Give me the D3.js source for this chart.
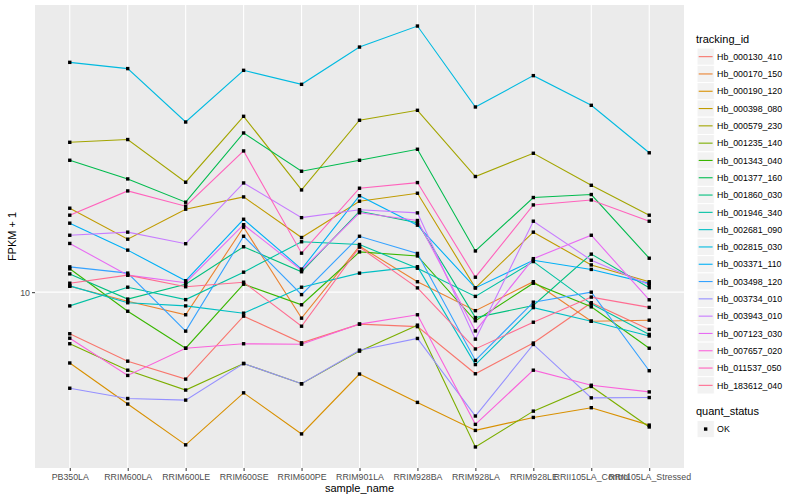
<!DOCTYPE html>
<html>
<head>
<meta charset="utf-8">
<script src="https://cdn.jsdelivr.net/npm/d3@7"></script>
<style>
  body { margin: 0; background: #fff; }
  text { font-family: "Liberation Sans", Arial, Helvetica, sans-serif; }
</style>
</head>
<body>
<svg id="chart" width="800" height="500"></svg>
<script>
const samples = ["PB350LA", "RRIM600LA", "RRIM600LE", "RRIM600SE", "RRIM600PE", "RRIM901LA",
  "RRIM928BA", "RRIM928LA", "RRIM928LE", "RRII105LA_Control", "RRII105LA_Stressed"];

const trackingIds = ["Hb_000130_410", "Hb_000170_150", "Hb_000190_120", "Hb_000398_080", "Hb_000579_230",
  "Hb_001235_140", "Hb_001343_040", "Hb_001377_160", "Hb_001860_030", "Hb_001946_340",
  "Hb_002681_090", "Hb_002815_030", "Hb_003371_110", "Hb_003498_120", "Hb_003734_010",
  "Hb_003943_010", "Hb_007123_030", "Hb_007657_020", "Hb_011537_050", "Hb_183612_040"];

const colours = ["#F8766D", "#EA8331", "#D89000", "#C09B00", "#A3A500", "#7CAE00", "#39B600", "#00BB4E",
  "#00BF7D", "#00C1A3", "#00BFC4", "#00BAE0", "#00B0F6", "#35A2FF", "#9590FF", "#C77CFF",
  "#E76BF3", "#FA62DB", "#FF62BC", "#FF6C91"];

// FPKM + 1, one value per sample
const hb000130_410 = [7.87, 6.72, 6.06, 8.71, 7.47, 8.32, 8.20, 6.25, 7.46, 9.41, 8.07];
const hb000170_150 = [10.35, 9.49, 8.78, 14.54, 8.61, 13.03, 10.62, 8.99, 10.62, 8.46, 8.51];
const hb000190_120 = [6.65, 5.25, 4.15, 5.60, 4.42, 6.24, 5.30, 4.51, 4.86, 5.14, 4.65];
const hb000398_080 = [16.22, 13.57, 16.13, 17.31, 13.70, 16.89, 17.68, 10.25, 14.13, 11.70, 10.62];
const hb000579_230 = [23.71, 24.09, 18.84, 27.54, 18.02, 26.92, 28.51, 19.47, 22.26, 18.51, 15.58];
const hb001235_140 = [7.43, 6.38, 5.69, 6.63, 5.90, 7.12, 8.27, 4.10, 5.04, 5.81, 4.60];
const hb001343_040 = [11.44, 8.96, 7.24, 10.47, 9.30, 12.61, 12.32, 8.48, 10.53, 9.19, 7.24];
const hb001377_160 = [21.38, 19.20, 16.79, 25.02, 20.07, 21.38, 22.78, 12.68, 17.25, 17.55, 12.16];
const hb001860_030 = [11.11, 9.61, 10.47, 12.99, 11.25, 15.94, 14.92, 8.64, 9.26, 12.45, 10.26];
const hb001946_340 = [9.24, 10.29, 9.58, 11.22, 13.37, 13.16, 11.48, 9.76, 11.93, 9.35, 7.84];
const hb002681_090 = [10.37, 9.41, 9.24, 8.86, 10.29, 11.16, 11.58, 6.59, 9.15, 8.46, 7.77];
const hb002815_030 = [37.58, 36.25, 26.65, 35.89, 33.11, 41.04, 46.32, 29.06, 34.81, 29.34, 22.32];
const hb003371_110 = [14.88, 12.74, 10.68, 15.22, 11.42, 17.43, 14.71, 10.25, 12.02, 11.40, 10.52];
const hb003498_120 = [11.57, 11.16, 7.99, 13.80, 9.86, 13.80, 12.50, 6.75, 9.44, 10.00, 6.36];
const hb003734_010 = [5.75, 5.42, 5.37, 6.63, 5.90, 7.16, 7.66, 4.90, 7.40, 5.44, 5.45];
const hb003943_010 = [13.88, 14.13, 13.22, 18.76, 15.36, 16.08, 15.79, 7.63, 15.05, 12.02, 10.43];
const hb007123_030 = [13.24, 11.03, 10.56, 14.75, 11.35, 15.80, 15.11, 8.00, 12.13, 13.88, 9.57];
const hb007657_020 = [7.67, 6.19, 7.24, 7.43, 7.41, 8.32, 8.78, 4.67, 6.38, 5.85, 5.63];
const hb011537_050 = [15.58, 17.92, 16.41, 22.56, 12.52, 18.20, 18.80, 10.90, 16.53, 17.01, 15.05];
const hb183612_040 = [10.53, 11.03, 10.32, 10.59, 8.22, 12.96, 10.25, 7.21, 8.41, 9.72, 9.16];

const yTicks = [10];

const seriesValues = [hb000130_410, hb000170_150, hb000190_120, hb000398_080, hb000579_230,
  hb001235_140, hb001343_040, hb001377_160, hb001860_030, hb001946_340,
  hb002681_090, hb002815_030, hb003371_110, hb003498_120, hb003734_010,
  hb003943_010, hb007123_030, hb007657_020, hb011537_050, hb183612_040];

const series = trackingIds.map((id, i) => ({
  id: id,
  colour: colours[i],
  points: samples.map((s, j) => ({ sample: s, value: seriesValues[i][j] }))
}));

const panel = { left: 35, right: 684, top: 5, bottom: 468 };
const svg = d3.select("#chart");

const x = d3.scalePoint()
  .domain(samples)
  .range([panel.left, panel.right])
  .padding(0.6);

// log scale with ggplot-like 5% expansion
const all = seriesValues.flat();
const lo = Math.log10(d3.min(all)), hi = Math.log10(d3.max(all));
const pad = (hi - lo) * 0.05;
const y = d3.scaleLog()
  .domain([Math.pow(10, lo - pad), Math.pow(10, hi + pad)])
  .range([panel.bottom, panel.top]);

svg.append("rect")
  .attr("x", panel.left).attr("y", panel.top)
  .attr("width", panel.right - panel.left).attr("height", panel.bottom - panel.top)
  .attr("fill", "#EBEBEB");

// grid
svg.append("g").selectAll("line").data(samples).join("line")
  .attr("x1", d => x(d)).attr("x2", d => x(d))
  .attr("y1", panel.top).attr("y2", panel.bottom)
  .attr("stroke", "#fff").attr("stroke-width", 1.1);

svg.append("g").selectAll("line").data(yTicks).join("line")
  .attr("x1", panel.left).attr("x2", panel.right)
  .attr("y1", d => y(d)).attr("y2", d => y(d))
  .attr("stroke", "#fff").attr("stroke-width", 1.1);

// axes
const xAxis = svg.append("g")
  .attr("transform", `translate(0,${panel.bottom})`)
  .call(d3.axisBottom(x).tickSize(3).tickPadding(2.5));
const yAxis = svg.append("g")
  .attr("transform", `translate(${panel.left},0)`)
  .call(d3.axisLeft(y).tickValues(yTicks).tickFormat(d3.format("d")).tickSize(3).tickPadding(2));

[xAxis, yAxis].forEach(g => {
  g.select(".domain").remove();
  g.selectAll(".tick line").attr("stroke", "#333");
  g.selectAll(".tick text")
    .attr("fill", "#4D4D4D")
    .style("font-size", "8.8px")
    .style("font-family", "'Liberation Sans', Arial, sans-serif");
});

// lines
const line = d3.line()
  .x(d => x(d.sample))
  .y(d => y(d.value));

svg.append("g").selectAll("path").data(series).join("path")
  .attr("d", d => line(d.points))
  .attr("fill", "none")
  .attr("stroke", d => d.colour)
  .attr("stroke-width", 1.1);

// points
svg.append("g").selectAll("rect").data(series.flatMap(d => d.points)).join("rect")
  .attr("x", d => x(d.sample) - 1.7)
  .attr("y", d => y(d.value) - 1.7)
  .attr("width", 3.4).attr("height", 3.4)
  .attr("fill", "#000");

// axis titles
svg.append("text")
  .attr("x", (panel.left + panel.right) / 2).attr("y", 491.5)
  .attr("text-anchor", "middle")
  .style("font-size", "11px")
  .text("sample_name");

svg.append("text")
  .attr("transform", `translate(16,${(panel.top + panel.bottom) / 2}) rotate(-90)`)
  .attr("text-anchor", "middle")
  .style("font-size", "11px")
  .text("FPKM + 1");

// legend: tracking_id
const legend = svg.append("g");
const keyX = 697, keySize = 17.3, firstKey = 48;

legend.append("text")
  .attr("x", 696).attr("y", 43.3)
  .style("font-size", "11px")
  .text("tracking_id");

const keys = legend.selectAll("g.key").data(series).join("g")
  .attr("class", "key")
  .attr("transform", (d, i) => `translate(${keyX},${firstKey + i * keySize})`);

keys.append("rect")
  .attr("width", keySize).attr("height", keySize)
  .attr("fill", "#F2F2F2").attr("stroke", "#fff").attr("stroke-width", 1);

keys.append("line")
  .attr("x1", 1.7).attr("x2", keySize - 1.7)
  .attr("y1", keySize / 2).attr("y2", keySize / 2)
  .attr("stroke", d => d.colour).attr("stroke-width", 1.1);

keys.append("text")
  .attr("x", keySize + 2.8).attr("y", keySize / 2 + 3.2)
  .style("font-size", "8.8px")
  .text(d => d.id);

// legend: quant_status
legend.append("text")
  .attr("x", 696).attr("y", 415)
  .style("font-size", "11px")
  .text("quant_status");

const ok = legend.append("g").attr("transform", `translate(${keyX},420.4)`);
ok.append("rect")
  .attr("width", keySize).attr("height", keySize)
  .attr("fill", "#F2F2F2").attr("stroke", "#fff");
ok.append("rect")
  .attr("x", keySize / 2 - 1.7).attr("y", keySize / 2 - 1.7)
  .attr("width", 3.4).attr("height", 3.4).attr("fill", "#000");
ok.append("text")
  .attr("x", keySize + 2.8).attr("y", keySize / 2 + 3.2)
  .style("font-size", "8.8px")
  .text("OK");
</script>
</body>
</html>
